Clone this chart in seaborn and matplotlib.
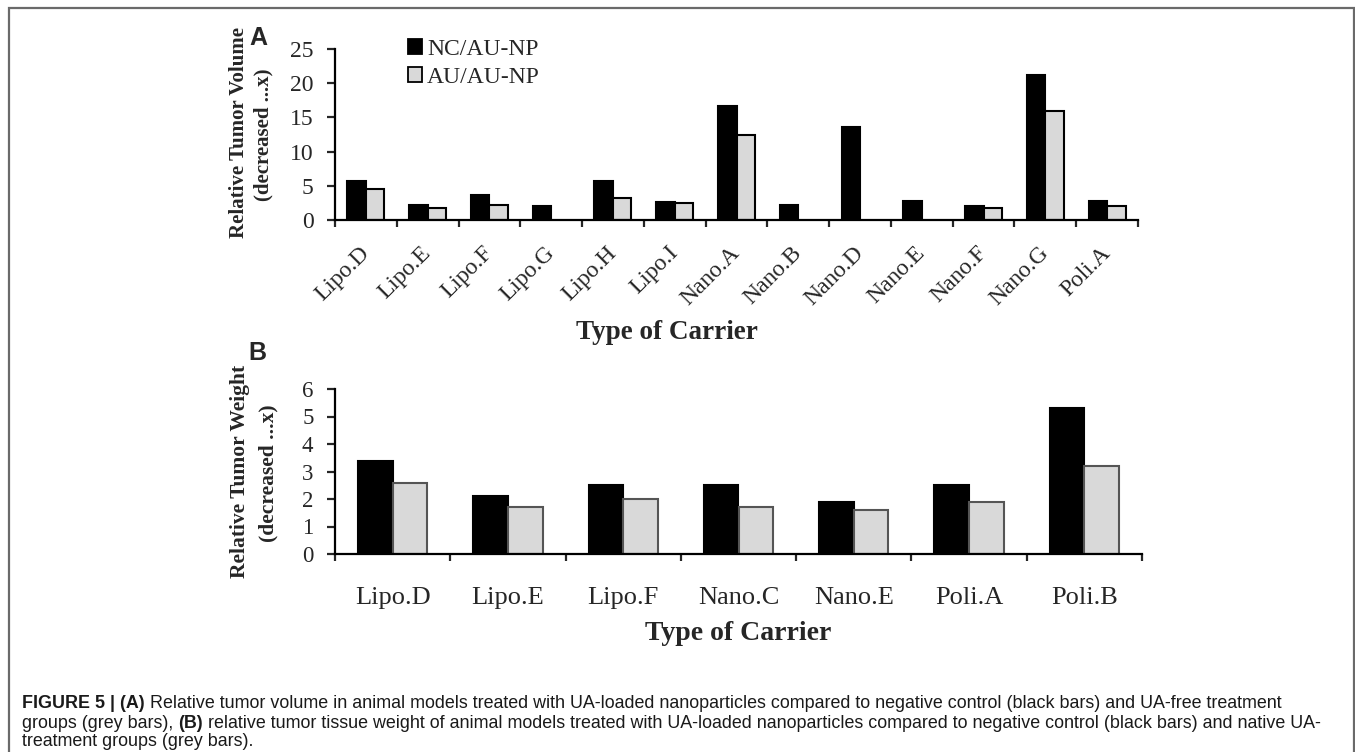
import numpy as np
import pandas as pd
import matplotlib
matplotlib.use("Agg")
import matplotlib.pyplot as plt
import matplotlib.transforms as mtransforms
import seaborn as sns
from matplotlib.patches import Rectangle

# ---------------- data ----------------
vol_carriers = ["Lipo.D", "Lipo.E", "Lipo.F", "Lipo.G", "Lipo.H", "Lipo.I", "Nano.A",
                "Nano.B", "Nano.D", "Nano.E", "Nano.F", "Nano.G", "Poli.A"]
vol_nc = [5.7, 2.2, 3.6, 2.1, 5.7, 2.6, 16.6, 2.2, 13.6, 2.8, 2.1, 21.2, 2.8]
vol_au = [4.5, 1.8, 2.2, np.nan, 3.2, 2.5, 12.4, np.nan, np.nan, np.nan, 1.7, 15.9, 2.0]

wt_carriers = ["Lipo.D", "Lipo.E", "Lipo.F", "Nano.C", "Nano.E", "Poli.A", "Poli.B"]
wt_nc = [3.4, 2.1, 2.5, 2.5, 1.9, 2.5, 5.3]
wt_au = [2.6, 1.7, 2.0, 1.7, 1.6, 1.9, 3.2]

series_names = ["NC/AU-NP", "AU/AU-NP"]
vol_yticks = [0, 5, 10, 15, 20, 25]
wt_yticks = [0, 1, 2, 3, 4, 5, 6]

caption_lines = [
    [("FIGURE 5 | (A)", True),
     (" Relative tumor volume in animal models treated with UA-loaded nanoparticles compared to negative control (black bars) and UA-free treatment", False)],
    [("groups (grey bars), ", False), ("(B)", True),
     (" relative tumor tissue weight of animal models treated with UA-loaded nanoparticles compared to negative control (black bars) and native UA-", False)],
    [("treatment groups (grey bars).", False)],
]

# ---------------- style ----------------
sns.set_style("ticks")
plt.rcParams["font.family"] = ["Liberation Serif", "DejaVu Serif"]

W, H = 1355, 752
fig = plt.figure(figsize=(W / 100, H / 100), dpi=100)


def fx(px):
    return px / W


def fy(py):
    return 1 - py / H


def make_long(cats, a, b):
    return pd.DataFrame({
        "carrier": cats * 2,
        "value": list(a) + list(b),
        "series": [series_names[0]] * len(cats) + [series_names[1]] * len(cats),
    })


palette = {series_names[0]: "black", series_names[1]: "#d9d9d9"}


def style_axes(ax, n, yticks, ytick_fs, xlab_fs, grey_edge):
    ax.set_xlim(-0.5, n - 0.5)
    ax.set_ylim(yticks[0], yticks[-1])
    ax.set_yticks(yticks)
    sns.despine(ax=ax)
    for s in ["left", "bottom"]:
        ax.spines[s].set_linewidth(1.6)
        ax.spines[s].set_color("black")
    ax.tick_params(axis="y", length=5.5, width=1.6, labelsize=ytick_fs, pad=10, direction="out")
    ax.set_xticks(np.arange(n))
    ax.tick_params(axis="x", which="major", length=0, labelsize=xlab_fs)
    ax.set_xticks(np.arange(-0.5, n, 1.0), minor=True)
    ax.tick_params(axis="x", which="minor", length=5, width=1.6, direction="out")
    ax.set_xlabel("")
    ax.set_ylabel("")
    for p in ax.patches:
        fc = p.get_facecolor()
        p.set_edgecolor(grey_edge if fc[0] > 0.5 else "black")
        p.set_linewidth(1.5)


# ---------------- panel A ----------------
axA = fig.add_axes([fx(335), fy(220), fx(1138) - fx(335), fy(49) - fy(220)])
dfA = make_long(vol_carriers, vol_nc, vol_au)
sns.barplot(data=dfA, x="carrier", y="value", hue="series", palette=palette,
            width=0.6, gap=0, ax=axA, legend=True)
style_axes(axA, len(vol_carriers), vol_yticks, 17, 17, "black")
axA.tick_params(axis="x", which="major", pad=16)
shift = mtransforms.ScaledTranslation(-7 / 100, 0, fig.dpi_scale_trans)
for lab in axA.get_xticklabels():
    lab.set_rotation(45)
    lab.set_ha("right")
    lab.set_rotation_mode("anchor")
    lab.set_transform(lab.get_transform() + shift)

handles, labels = axA.get_legend_handles_labels()
axA.get_legend().remove()
for h in handles:
    h.set_edgecolor("black")
    h.set_linewidth(1.3)
fig.legend(handles, labels, loc="upper left", bbox_to_anchor=(fx(408), fy(39)),
           frameon=False, fontsize=17, handlelength=0.6, handleheight=0.6,
           handletextpad=0.2, labelspacing=0.3, borderaxespad=0, borderpad=0)

fig.text(fx(667), fy(333), "Type of Carrier", ha="center", va="center",
         fontsize=19.5, fontweight="bold")
fig.text(fx(239), fy(132), "Relative Tumor Volume", rotation=90, ha="center", va="center",
         fontsize=15, fontweight="bold")
fig.text(fx(263), fy(135), "(decreased ...x)", rotation=90, ha="center", va="center",
         fontsize=15, fontweight="bold")
fig.text(fx(258), fy(38), "A", ha="center", va="center", fontsize=18, fontweight="bold",
         family=["Liberation Sans", "DejaVu Sans"])

# ---------------- panel B ----------------
axB = fig.add_axes([fx(335), fy(554), fx(1142) - fx(335), fy(389) - fy(554)])
dfB = make_long(wt_carriers, wt_nc, wt_au)
sns.barplot(data=dfB, x="carrier", y="value", hue="series", palette=palette,
            width=0.6, gap=0, ax=axB, legend=False)
style_axes(axB, len(wt_carriers), wt_yticks, 16.5, 19, "#555555")
axB.tick_params(axis="x", which="major", pad=24)

fig.text(fx(738), fy(633), "Type of Carrier", ha="center", va="center",
         fontsize=20, fontweight="bold")
fig.text(fx(240), fy(471), "Relative Tumor Weight", rotation=90, ha="center", va="center",
         fontsize=15.5, fontweight="bold")
fig.text(fx(268), fy(473), "(decreased ...x)", rotation=90, ha="center", va="center",
         fontsize=15.5, fontweight="bold")
fig.text(fx(257), fy(353), "B", ha="center", va="center", fontsize=18, fontweight="bold",
         family=["Liberation Sans", "DejaVu Sans"])

# ---------------- frame ----------------
fig.patches.append(Rectangle((fx(9), -0.02), fx(1354) - fx(9), fy(8) + 0.02,
                             transform=fig.transFigure, fill=False,
                             edgecolor="#6a6a6a", linewidth=1.6))

# ---------------- caption ----------------
renderer = fig.canvas.get_renderer()
cap_family = ["Liberation Sans", "DejaVu Sans"]
for y_px, parts in zip([703, 723, 742], caption_lines):
    x = fx(22)
    for txt, bold in parts:
        t = fig.text(x, fy(y_px), txt, ha="left", va="center", fontsize=12.9,
                     fontweight="bold" if bold else "normal", family=cap_family,
                     color="#1a1a1a")
        bb = t.get_window_extent(renderer)
        x = bb.x1 / W

fig.savefig("out.png", dpi=100)
